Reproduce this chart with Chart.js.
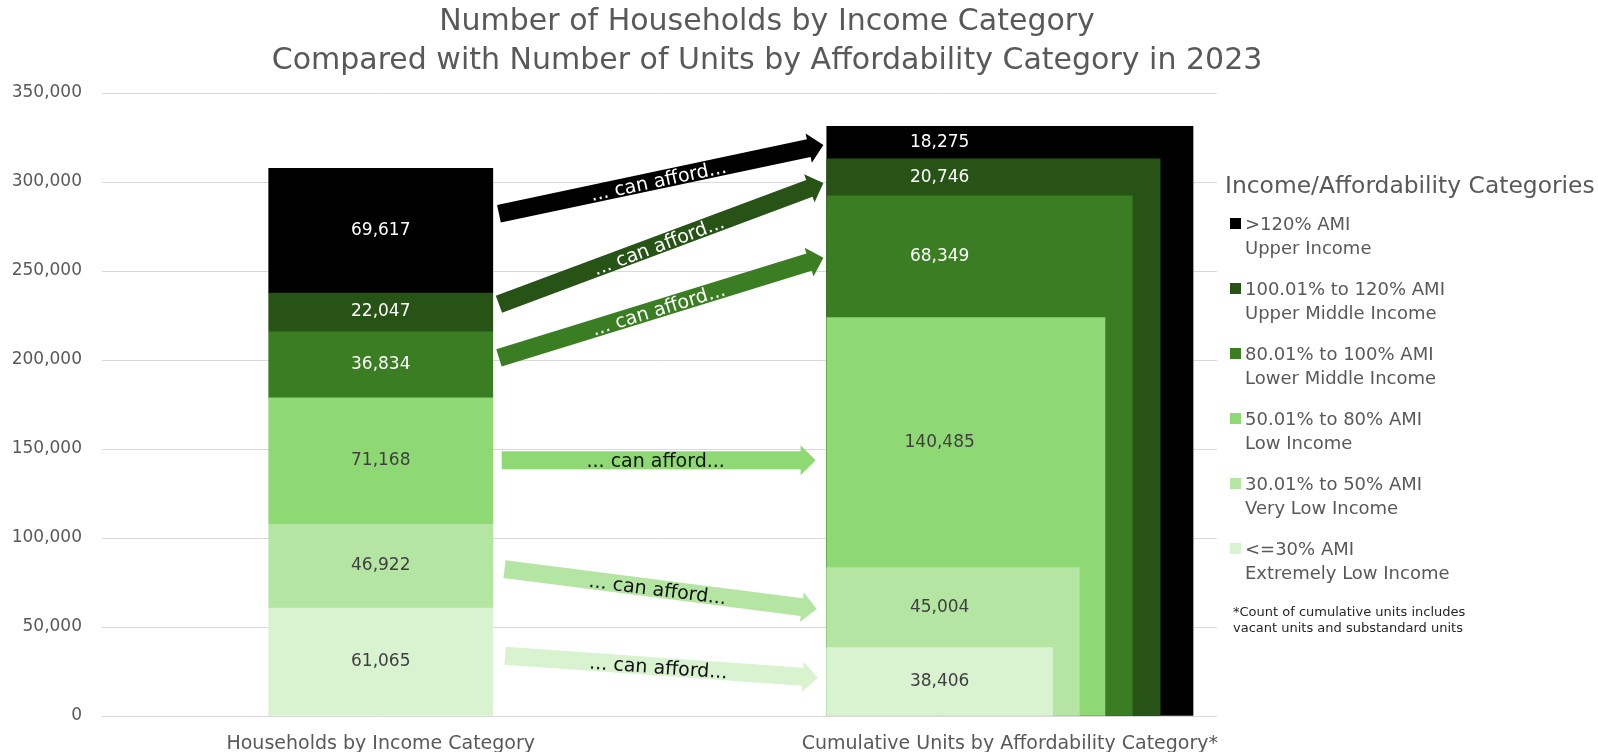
<!DOCTYPE html>
<html>
<head>
<meta charset="utf-8">
<title>Households and Units by Affordability Category, 2023</title>
<script src="https://cdn.jsdelivr.net/npm/chart.js@4"></script>
<style>
  body { margin: 0; background: #fff; }
  #wrap { position: relative; width: 1598px; height: 752px; }
  #wrap canvas { display: block; }
  .legend {
    position: absolute; left: 1225px; top: 170px;
    font-family: 'Century Gothic', 'DejaVu Sans', sans-serif; color: #595959;
  }
  .legend .head { font-size: 23.4px; line-height: 30px; margin-bottom: -5px; }
  .legend .item { display: flex; align-items: flex-start; margin-top: 17px; padding-left: 5px; font-size: 18px; line-height: 24px; }
  .legend .box { width: 11px; height: 11px; margin: 6px 4px 0 0; flex: none; }
  .legend .note { margin-top: 19px; padding-left: 8px; font-size: 13px; line-height: 16px; color: #262626; }
</style>
</head>
<body>
<div id="wrap">
  <canvas id="myChart" width="1598" height="752"></canvas>
  <div class="legend" id="legend"></div>
</div>
<script>
const categories = ['Households by Income Category', 'Cumulative Units by Affordability Category*'];
const amiBands = ['<=30% AMI', '30.01% to 50% AMI', '50.01% to 80% AMI', '80.01% to 100% AMI', '100.01% to 120% AMI', '>120% AMI'];
const incomeNames = ['Extremely Low Income', 'Very Low Income', 'Low Income', 'Lower Middle Income', 'Upper Middle Income', 'Upper Income'];
const households = [61065, 46922, 71168, 36834, 22047, 69617];
const units = [38406, 45004, 140485, 68349, 20746, 18275];
const yTicks = [0, 50000, 100000, 150000, 200000, 250000, 300000, 350000];

// "... can afford..." arrows: value where each one leaves the households bar and where it lands
const arrowFrom = [33900, 82500, 143700, 201200, 231300, 282200];
const arrowTo = [21400, 60100, 143700, 257500, 299400, 320800];

const colors = ['#D9F2D0', '#B4E5A2', '#8ED973', '#3A7D22', '#275317', '#000000'];
const labelColors = ['#404040', '#404040', '#404040', '#ffffff', '#ffffff', '#ffffff'];
const arrowTextColors = ['#111111', '#111111', '#111111', '#ffffff', '#ffffff', '#ffffff'];
const fontFamily = "'Century Gothic', 'DejaVu Sans', sans-serif";

// x runs 0..2 across the plot; everything below is in those units
const barX = 0.5, barW = 0.402;
const stackLeft = 1.3;
const stackW = [0.405, 0.453, 0.499, 0.548, 0.598, 0.657];
const tickAt = [barX, stackLeft + stackW[5] / 2];
const arrowTail = [0.723, 0.722, 0.717, 0.712, 0.712, 0.712];
const arrowTip = [1.284, 1.282, 1.28, 1.294, 1.294, 1.294];

Chart.defaults.font.family = fontFamily;

// households: one floating segment per band
let run = 0;
const householdSegs = households.map(v => {
    const seg = { x: barX, y: [run, run + v] };
    run += v;
    return seg;
});

// cumulative units: nested boxes from 0, each a bit wider than the one before
let unitTotal = 0;
const unitBoxes = units.map((v, k) => {
    unitTotal += v;
    return {
        label: amiBands[k],
        data: [{ x: stackLeft + stackW[k] / 2, y: unitTotal }],
        backgroundColor: colors[k],
        order: k,
        widthUnits: stackW[k]
    };
});

const datasets = [{
    label: 'Households',
    data: householdSegs,
    backgroundColor: colors,
    order: -1,
    widthUnits: barW
}].concat(unitBoxes);

const valueLabels = {
    id: 'valueLabels',
    afterDatasetsDraw(chart) {
        const { ctx, scales: { x, y } } = chart;
        ctx.save();
        ctx.font = '17px ' + fontFamily;
        ctx.textAlign = 'center';
        ctx.textBaseline = 'middle';
        chart.getDatasetMeta(0).data.forEach((bar, i) => {
            ctx.fillStyle = labelColors[i];
            ctx.fillText(households[i].toLocaleString('en-US'), bar.x, (bar.y + bar.base) / 2);
        });
        const cx = x.getPixelForValue(stackLeft + stackW[0] / 2);
        let lo = 0;
        units.forEach((v, i) => {
            ctx.fillStyle = labelColors[i];
            ctx.fillText(v.toLocaleString('en-US'), cx, y.getPixelForValue(lo + v / 2));
            lo += v;
        });
        ctx.restore();
    }
};

const canAfford = {
    id: 'canAfford',
    afterDatasetsDraw(chart) {
        const { ctx, scales: { x, y } } = chart;
        const shaft = 9, head = 15, headLen = 15;
        ctx.save();
        ctx.font = '19px ' + fontFamily;
        ctx.textAlign = 'center';
        ctx.textBaseline = 'middle';
        arrowFrom.forEach((v0, i) => {
            const x0 = x.getPixelForValue(arrowTail[i]);
            const y0 = y.getPixelForValue(v0);
            const x1 = x.getPixelForValue(arrowTip[i]);
            const y1 = y.getPixelForValue(arrowTo[i]);
            const len = Math.hypot(x1 - x0, y1 - y0);
            ctx.save();
            ctx.translate(x0, y0);
            ctx.rotate(Math.atan2(y1 - y0, x1 - x0));
            ctx.fillStyle = colors[i];
            ctx.beginPath();
            ctx.moveTo(0, -shaft);
            ctx.lineTo(len - headLen, -shaft);
            ctx.lineTo(len - headLen, -head);
            ctx.lineTo(len, 0);
            ctx.lineTo(len - headLen, head);
            ctx.lineTo(len - headLen, shaft);
            ctx.lineTo(0, shaft);
            ctx.closePath();
            ctx.fill();
            ctx.fillStyle = arrowTextColors[i];
            ctx.fillText('... can afford...', len / 2 - 3, 2);
            ctx.restore();
        });
        ctx.restore();
    }
};

const ctx = document.getElementById('myChart').getContext('2d');
const myChart = new Chart(ctx, {
    type: 'bar',
    data: { datasets: datasets },
    options: {
        responsive: false,
        animation: false,
        events: [],
        layout: { padding: { left: 0, right: 64, top: 0, bottom: 0 } },
        datasets: { bar: { grouped: false, borderWidth: 0 } },
        plugins: {
            legend: { display: false },
            tooltip: { enabled: false },
            title: {
                display: true,
                text: ['Number of Households by Income Category',
                       'Compared with Number of Units by Affordability Category in 2023'],
                color: '#595959',
                font: { size: 30, weight: 'normal', lineHeight: 1.3 },
                padding: { top: 3, bottom: 12 }
            }
        },
        scales: {
            x: {
                type: 'linear',
                min: 0,
                max: 2,
                offset: false,
                grid: { display: false, offset: false },
                border: { display: false },
                afterBuildTicks: axis => { axis.ticks = tickAt.map(v => ({ value: v })); },
                ticks: {
                    autoSkip: false,
                    maxRotation: 0,
                    padding: 9,
                    color: '#595959',
                    font: { size: 19 },
                    callback: (v, i) => categories[i]
                },
                afterFit: axis => { axis.height = 36; }
            },
            y: {
                min: 0,
                max: 350000,
                afterBuildTicks: axis => { axis.ticks = yTicks.map(v => ({ value: v })); },
                grid: { color: '#d9d9d9', drawTicks: false },
                border: { display: false },
                ticks: {
                    padding: 20,
                    color: '#595959',
                    font: { size: 17 },
                    callback: v => v.toLocaleString('en-US')
                },
                afterFit: axis => { axis.width = 102; }
            },
            // empty axis that keeps room for the legend on the right
            yRight: {
                axis: 'y',
                type: 'linear',
                position: 'right',
                grid: { display: false },
                border: { display: false },
                ticks: { display: false },
                afterFit: axis => { axis.width = 317; }
            }
        }
    },
    plugins: [canAfford, valueLabels]
});

// bar widths are kept in x units, turn them into pixels now the scale is laid out
const xs = myChart.scales.x;
myChart.data.datasets.forEach(ds => {
    ds.barThickness = xs.getPixelForValue(ds.widthUnits) - xs.getPixelForValue(0);
});
myChart.update();

// legend, top band first
let html = '<div class="head">Income/Affordability Categories</div>';
for (let k = amiBands.length - 1; k >= 0; k--) {
    html += '<div class="item"><span class="box" style="background:' + colors[k] + '"></span>' +
        '<span>' + amiBands[k].replace('<', '&lt;').replace('>', '&gt;') + '<br>' + incomeNames[k] + '</span></div>';
}
html += '<div class="note">*Count of cumulative units includes<br>vacant units and substandard units</div>';
document.getElementById('legend').innerHTML = html;
</script>
</body>
</html>
